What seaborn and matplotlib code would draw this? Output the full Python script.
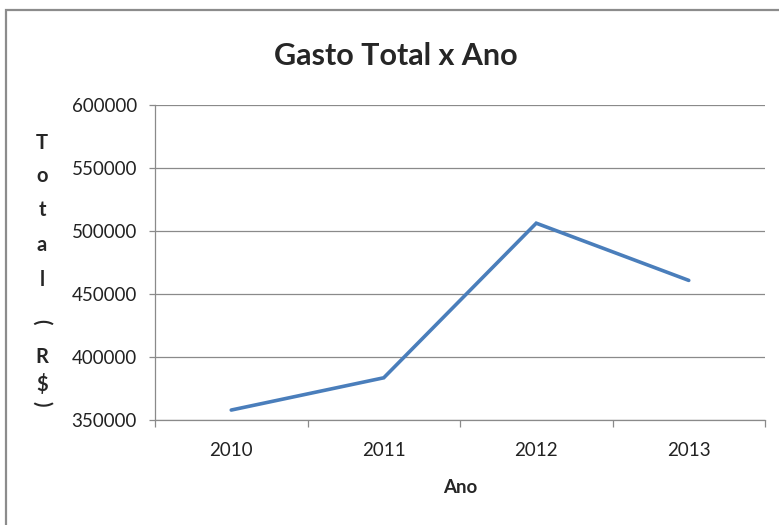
import pandas as pd
import matplotlib.pyplot as plt
import seaborn as sns
from matplotlib.patches import Rectangle
from matplotlib.ticker import FixedLocator

# Data
anos = [2010, 2011, 2012, 2013]
gasto_total = [357900, 383500, 506200, 460800]
y_ticks = [350000, 400000, 450000, 500000, 550000, 600000]

df = pd.DataFrame({"Ano": anos, "Total": gasto_total})

sns.set_style("white")
plt.rcParams["font.family"] = ["Lato", "DejaVu Sans"]

W, H = 779, 525
fig = plt.figure(figsize=(W / 100, H / 100), dpi=100)
ax = fig.add_axes([155 / W, 1 - 420 / H, (765 - 155) / W, (420 - 105) / H])

grey = "#8a8a8a"

sns.lineplot(data=df, x="Ano", y="Total", ax=ax, color="#4A7EBB",
             linewidth=2.6, solid_capstyle="round", solid_joinstyle="miter")

# y axis
ax.set_ylim(350000, 600000)
ax.set_yticks(y_ticks)
ax.set_yticklabels([str(v) for v in y_ticks])
ax.yaxis.grid(True, color=grey, linewidth=0.9)
ax.xaxis.grid(False)
ax.set_axisbelow(True)

# x axis: categories with ticks between them
ax.set_xlim(2009.5, 2013.5)
ax.set_xticks(anos)
ax.set_xticklabels([str(a) for a in anos])
ax.xaxis.set_minor_locator(FixedLocator([2009.5, 2010.5, 2011.5, 2012.5, 2013.5]))

ax.tick_params(axis="y", which="major", length=4, width=0.9, color=grey,
               pad=9, labelsize=13.5, labelcolor="#222222", left=True)
ax.tick_params(axis="x", which="major", length=0, pad=16,
               labelsize=13.5, labelcolor="#222222")
ax.tick_params(axis="x", which="minor", length=5, width=0.9, color=grey,
               bottom=True)

for side in ["top", "right"]:
    ax.spines[side].set_visible(False)
for side in ["left", "bottom"]:
    ax.spines[side].set_color(grey)
    ax.spines[side].set_linewidth(0.9)

ax.set_xlabel("Ano", fontsize=13.5, fontweight="bold", labelpad=14)
ax.set_ylabel("")

# title
fig.text(396 / W, 1 - 56 / H, "Gasto Total x Ano", ha="center", va="center",
         fontsize=22, fontweight="bold")

# stacked y label, brackets turned sideways like Excel does
stack = [("T", 143, 0), ("o", 176, 0), ("t", 210, 0), ("a", 245, 0),
         ("l", 280, 0), ("(", 322, -90), ("R", 357, 0), ("$", 384, 0),
         (")", 404, -90)]
for ch, yy, rot in stack:
    fig.text(42 / W, 1 - yy / H, ch, ha="center", va="center",
             fontsize=14.5, fontweight="bold", rotation=rot)

# chart area border (left and top visible)
fig.add_artist(Rectangle((6 / W, -0.2), 1.5, 1.2 - 10 / H,
                         transform=fig.transFigure, fill=False,
                         edgecolor="#8c8c8c", linewidth=1.6))

fig.savefig("out.png", dpi=100)
